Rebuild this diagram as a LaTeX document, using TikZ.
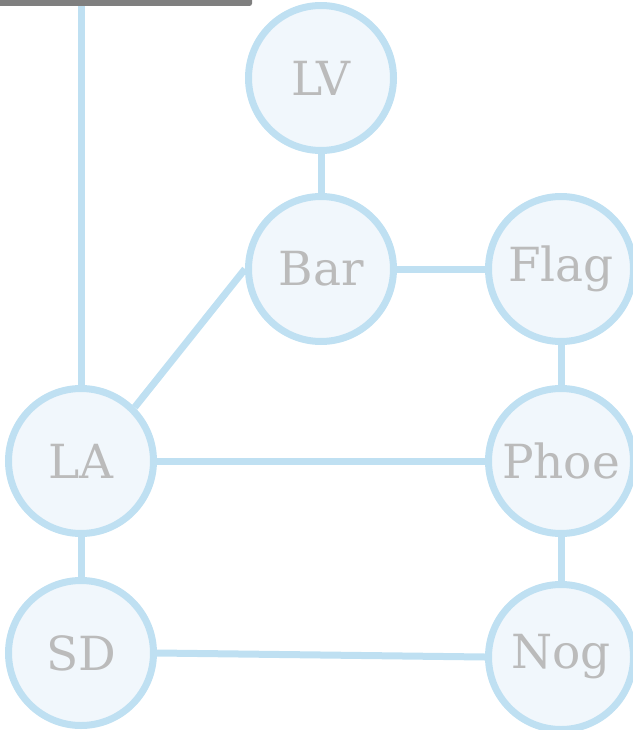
\documentclass[tikz,border=0pt]{standalone}
\usepackage{fontspec}
\setmainfont{DejaVu Serif}
\usetikzlibrary{backgrounds}
\definecolor{edgeblue}{HTML}{BFE0F2}
\definecolor{fillblue}{HTML}{F1F7FC}
\definecolor{txtgray}{HTML}{BBBBBB}
\definecolor{bargray}{HTML}{7F7F7F}
\tikzset{
  city/.style={circle, draw=edgeblue, fill=fillblue, line width=7pt, minimum size=145pt, inner sep=0pt, text=txtgray, font=\fontsize{47}{56}\selectfont},
  road/.style={draw=edgeblue, line width=7pt}
}
\begin{document}
\begin{tikzpicture}[x=1pt, y=-1pt]
\useasboundingbox (0,0) rectangle (632,730);
\fill[bargray, rounded corners=2.5pt] (-5,-5) rectangle (252,6);
\node[city] (LV) at (321,78) {LV};
\node[city] (Bar) at (321,269) {Bar};
\node[city] (Flag) at (561,269) {Flag};
\node[city] (LA) at (81,461) {LA};
\node[city] (Phoe) at (561,461) {Phoe};
\node[city] (SD) at (81,653) {SD};
\node[city] (Nog) at (561,657) {Nog};
\coordinate (top) at (81,0);
\begin{scope}[on background layer]
\draw[road] (LA) -- (top);
\draw[road] (LV) -- (Bar);
\draw[road] (Bar) -- (Flag);
\draw[road] (LA.north east) -- (Bar.west);
\draw[road] (Flag) -- (Phoe);
\draw[road] (LA) -- (Phoe);
\draw[road] (Phoe) -- (Nog);
\draw[road] (LA) -- (SD);
\draw[road] (SD.east) -- (Nog.west);
\end{scope}
\end{tikzpicture}
\end{document}
